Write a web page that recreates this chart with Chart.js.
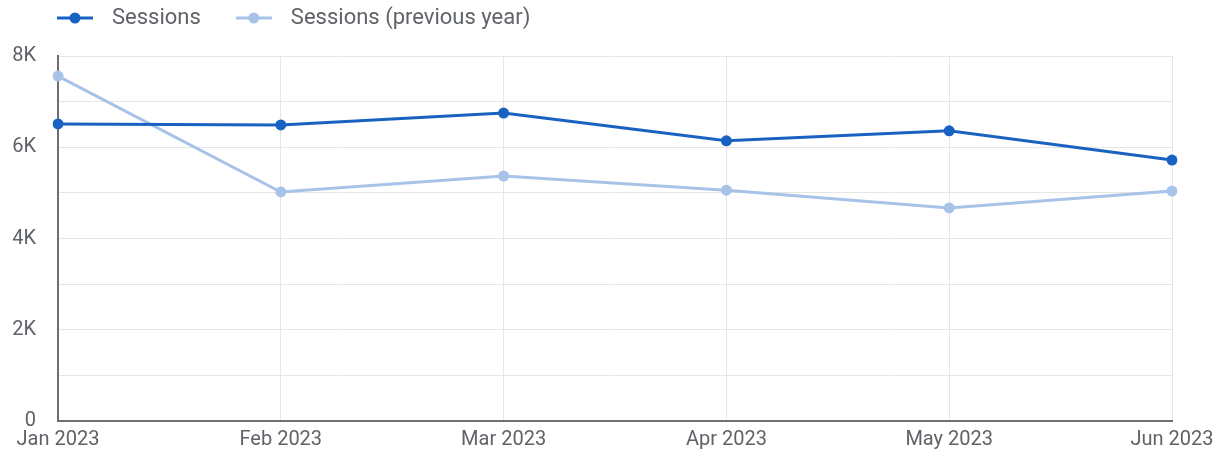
<!DOCTYPE html>
<html>
<head>
<meta charset="utf-8">
<script src="https://cdn.jsdelivr.net/npm/chart.js@4.4.0/dist/chart.umd.min.js"></script>
<style>
  html, body { margin: 0; padding: 0; background: #fff; }
  #wrap { position: relative; width: 1232px; height: 456px; }
</style>
</head>
<body>
<div id="wrap"><canvas id="chart"></canvas></div>
<script>
// -------- data --------
var months = ['Jan 2023', 'Feb 2023', 'Mar 2023', 'Apr 2023', 'May 2023', 'Jun 2023'];
var sessions = [6510, 6490, 6750, 6140, 6360, 5720];
var sessionsPrev = [7560, 5020, 5370, 5060, 4670, 5040];
var yTickLabels = ['0', '', '2K', '', '4K', '', '6K', '', '8K'];

var darkBlue = '#1a62c2';
var lightBlue = '#a7c3e8';
var textColor = '#5f6368';

// legend marker: short line with a dot, sits at the right of the legend box
var markWidth = 72;
function legendMark(color) {
    var c = document.createElement('canvas');
    c.width = markWidth;
    c.height = 14;
    var g = c.getContext('2d');
    var end = markWidth - 8;
    g.strokeStyle = color;
    g.lineWidth = 3;
    g.beginPath();
    g.moveTo(end - 36, 7);
    g.lineTo(end, 7);
    g.stroke();
    g.fillStyle = color;
    g.beginPath();
    g.arc(end - 18, 7, 5.5, 0, Math.PI * 2);
    g.fill();
    return c;
}
var marks = [legendMark(darkBlue), legendMark(lightBlue)];

// extra space under the legend, and nudge it right
var legendGap = {
    id: 'legendGap',
    beforeInit: function (chart) {
        var fit = chart.legend.fit;
        chart.legend.fit = function () {
            fit.bind(chart.legend)();
            this.height += 17;
        };
    },
    afterLayout: function (chart) {
        chart.legend.left += 22;
        chart.legend.right += 22;
    }
};

var ctx = document.getElementById('chart');

var chartGraph = new Chart(ctx, {
    type: 'line',
    data: {
        labels: months,
        datasets: [{
            label: 'Sessions',
            data: sessions,
            borderWidth: 3,
            borderColor: darkBlue,
            backgroundColor: darkBlue,
            pointRadius: 5.5,
            pointBorderWidth: 0,
            pointBackgroundColor: darkBlue,
            tension: 0
        },
        {
            label: 'Sessions (previous year)',
            data: sessionsPrev,
            borderWidth: 3,
            borderColor: lightBlue,
            backgroundColor: lightBlue,
            pointRadius: 5.5,
            pointBorderWidth: 0,
            pointBackgroundColor: lightBlue,
            tension: 0
        }]
    },
    options: {
        responsive: true,
        maintainAspectRatio: false,
        animation: false,
        layout: { padding: { left: 0, right: 60, top: 0, bottom: 0 } },
        plugins: {
            tooltip: { enabled: false },
            legend: {
                position: 'top',
                align: 'start',
                labels: {
                    usePointStyle: true,
                    pointStyleWidth: markWidth,
                    padding: 7,
                    color: textColor,
                    font: { family: 'Roboto', size: 22 },
                    generateLabels: function (chart) {
                        return chart.data.datasets.map(function (ds, i) {
                            return {
                                text: ds.label,
                                pointStyle: marks[i],
                                fillStyle: ds.borderColor,
                                strokeStyle: ds.borderColor,
                                lineWidth: 0,
                                fontColor: textColor,
                                datasetIndex: i,
                                hidden: false
                            };
                        });
                    }
                }
            }
        },
        scales: {
            x: {
                offset: false,
                grid: { color: '#e6e6e6', drawTicks: false },
                border: { color: '#6f6f6f', width: 2 },
                ticks: {
                    color: textColor,
                    font: { family: 'Roboto', size: 20 },
                    padding: 7,
                    maxRotation: 0,
                    autoSkip: false
                },
                afterFit: function (scale) { scale.height = 35; }
            },
            y: {
                min: 0,
                max: 8000,
                grid: { color: '#e6e6e6', drawTicks: false },
                border: { color: '#6f6f6f', width: 2 },
                ticks: {
                    stepSize: 1000,
                    autoSkip: false,
                    color: textColor,
                    font: { family: 'Roboto', size: 20 },
                    padding: 22,
                    callback: function (value, index) { return yTickLabels[index]; }
                },
                afterFit: function (scale) { scale.width = 58; }
            }
        }
    },
    plugins: [legendGap]
});
</script>
</body>
</html>
